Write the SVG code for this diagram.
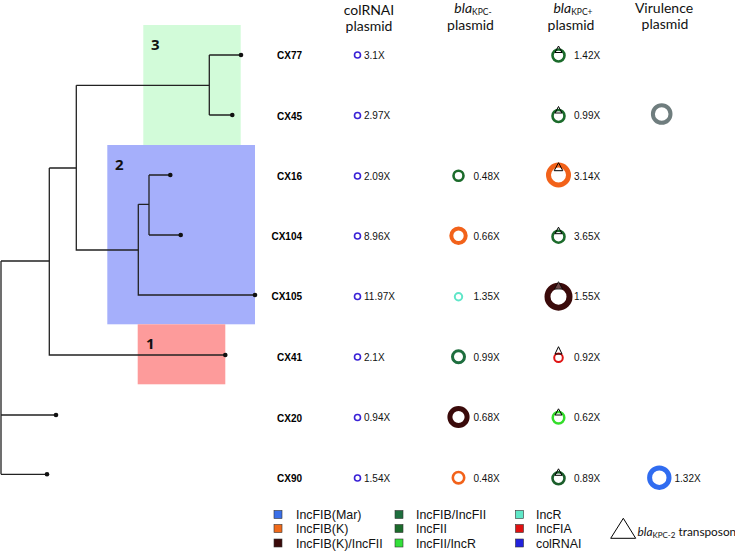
<svg xmlns="http://www.w3.org/2000/svg" width="735" height="551" viewBox="0 0 735 551">
<style>
.hd{font-family:Lato,"Liberation Sans",sans-serif;font-size:14px;fill:#111;text-anchor:middle}
.lab{font-family:"Liberation Sans",Arial,sans-serif;font-size:10px;font-weight:bold;fill:#000;text-anchor:end}
.num{font-family:"Liberation Sans",Arial,sans-serif;font-size:10px;fill:#111}
.leg{font-family:"Liberation Sans",Arial,sans-serif;font-size:12.4px;fill:#111}
.cl{font-family:"Open Sans","Liberation Sans",sans-serif;font-size:15px;font-weight:bold;fill:#111}
.br{fill:none;stroke:#222;stroke-width:1.3}
.dot{fill:#111}
.tri{fill:none;stroke:#000;stroke-width:1}
.ring{fill:none}
.sq{stroke:#333;stroke-width:0.6}
</style>

<g id="clades">
<rect x="143.3" y="25" width="97.4" height="120" fill="#d2fbd9"/>
<rect x="107.3" y="145" width="147.7" height="179.3" fill="#a5affb"/>
<rect x="137.7" y="324.3" width="87.6" height="60" fill="#fd9b9b"/>
<text class="cl" x="151" y="50">3</text>
<text class="cl" x="115" y="170">2</text>
<text class="cl" x="146" y="349">1</text>
</g>

<g id="tree">
<path class="br" d="M1,261 V474.3 M1,261 H49.3 M1,415 H56 M1,474.3 H47"/>
<path class="br" d="M49.3,168 V355 H225.3 M49.3,168 H76.3"/>
<path class="br" d="M76.3,85.3 V250 H138.3 M76.3,85.3 H209.3"/>
<path class="br" d="M209.3,55 V115 M209.3,55 H241 M209.3,115 H232.3"/>
<path class="br" d="M138.3,204.3 V295 H255 M138.3,204.3 H149"/>
<path class="br" d="M149,175 V235 M149,175 H170.3 M149,235 H180.7"/>
<circle class="dot" cx="241" cy="55" r="2.3"/>
<circle class="dot" cx="232.3" cy="115" r="2.3"/>
<circle class="dot" cx="170.3" cy="175" r="2.3"/>
<circle class="dot" cx="180.7" cy="235" r="2.3"/>
<circle class="dot" cx="255" cy="295" r="2.3"/>
<circle class="dot" cx="225.3" cy="355" r="2.3"/>
<circle class="dot" cx="56" cy="415" r="2.3"/>
<circle class="dot" cx="47" cy="474.3" r="2.3"/>
</g>

<g id="headers">
<text class="hd" x="369" y="15">colRNAI</text>
<text class="hd" x="369" y="31">plasmid</text>
<text class="hd" x="473" y="12.5"><tspan font-style="italic">bla</tspan><tspan font-size="8.5" dy="2.5">KPC-</tspan></text>
<text class="hd" x="470.5" y="30">plasmid</text>
<text class="hd" x="573" y="12.5"><tspan font-style="italic">bla</tspan><tspan font-size="8.5" dy="2.5">KPC+</tspan></text>
<text class="hd" x="571" y="30">plasmid</text>
<text class="hd" x="664" y="12.5">Virulence</text>
<text class="hd" x="665" y="28.5">plasmid</text>
</g>

<g id="row-CX77">
<text class="lab" x="302" y="59">CX77</text>
<circle class="ring" cx="357.5" cy="55" r="3" stroke="#3a22d6" stroke-width="1.6"/>
<text class="num" x="364" y="58.5">3.1X</text>
<circle class="ring" cx="558.5" cy="55.5" r="6" stroke="#1b6b2b" stroke-width="2.6"/>
<polygon class="tri" points="558.5,46 555,52.5 562,52.5"/>
<text class="num" x="574" y="59">1.42X</text>
</g>

<g id="row-CX45">
<text class="lab" x="302" y="119.5">CX45</text>
<circle class="ring" cx="357.5" cy="115.5" r="3" stroke="#3a22d6" stroke-width="1.6"/>
<text class="num" x="364" y="119">2.97X</text>
<circle class="ring" cx="558.5" cy="116" r="6" stroke="#1b6b2b" stroke-width="2.6"/>
<polygon class="tri" points="558.5,106.5 555,113 562,113"/>
<text class="num" x="574" y="119">0.99X</text>
<circle class="ring" cx="661.7" cy="114" r="8.8" stroke="#6f7d7e" stroke-width="4"/>
</g>

<g id="row-CX16">
<text class="lab" x="302" y="180">CX16</text>
<circle class="ring" cx="357.5" cy="176" r="3" stroke="#3a22d6" stroke-width="1.6"/>
<text class="num" x="364" y="179.5">2.09X</text>
<circle class="ring" cx="458.5" cy="175.7" r="5" stroke="#1b6b2b" stroke-width="2.6"/>
<text class="num" x="473.5" y="179.5">0.48X</text>
<circle class="ring" cx="558.5" cy="175" r="10" stroke="#f2621a" stroke-width="5"/>
<polygon class="tri" points="558.5,162.7 554.2,170.7 562.8,170.7"/>
<text class="num" x="574" y="179.5">3.14X</text>
</g>

<g id="row-CX104">
<text class="lab" x="302" y="239.5">CX104</text>
<circle class="ring" cx="357.5" cy="236" r="3" stroke="#3a22d6" stroke-width="1.6"/>
<text class="num" x="364" y="239.5">8.96X</text>
<circle class="ring" cx="458.5" cy="235.7" r="7.2" stroke="#f2621a" stroke-width="4"/>
<text class="num" x="473.5" y="239.5">0.66X</text>
<circle class="ring" cx="558.5" cy="236.7" r="6" stroke="#1b6b2b" stroke-width="2.6"/>
<polygon class="tri" points="558.5,227.2 555,233.7 562,233.7"/>
<text class="num" x="574" y="239.5">3.65X</text>
</g>

<g id="row-CX105">
<text class="lab" x="302" y="300">CX105</text>
<circle class="ring" cx="357.5" cy="296.5" r="3" stroke="#3a22d6" stroke-width="1.6"/>
<text class="num" x="364" y="300">11.97X</text>
<circle class="ring" cx="458.5" cy="296.7" r="3.7" stroke="#5fe6c8" stroke-width="2"/>
<text class="num" x="473.5" y="300">1.35X</text>
<circle class="ring" cx="558.5" cy="296.7" r="11" stroke="#3a0a0a" stroke-width="6"/>
<polygon points="558.5,281.7 554.5,289 562.5,289" fill="#fff" fill-opacity="0.25" stroke="#000" stroke-width="0.8"/>
<text class="num" x="574" y="300">1.55X</text>
</g>

<g id="row-CX41">
<text class="lab" x="302" y="360.5">CX41</text>
<circle class="ring" cx="357.5" cy="357" r="3" stroke="#3a22d6" stroke-width="1.6"/>
<text class="num" x="364" y="360.5">2.1X</text>
<circle class="ring" cx="458.5" cy="356.7" r="6" stroke="#1e6e3e" stroke-width="3"/>
<text class="num" x="473.5" y="360.5">0.99X</text>
<circle class="ring" cx="558.5" cy="357.7" r="4.3" stroke="#e01414" stroke-width="2"/>
<polygon class="tri" points="558.5,346.7 555,354 562,354"/>
<text class="num" x="574" y="360.5">0.92X</text>
</g>

<g id="row-CX20">
<text class="lab" x="302" y="421.5">CX20</text>
<circle class="ring" cx="357.5" cy="417.5" r="3" stroke="#3a22d6" stroke-width="1.6"/>
<text class="num" x="364" y="421">0.94X</text>
<circle class="ring" cx="458.5" cy="417" r="8.6" stroke="#3a0a0a" stroke-width="5"/>
<text class="num" x="473.5" y="421">0.68X</text>
<circle class="ring" cx="558.5" cy="417.7" r="5.8" stroke="#33dd2a" stroke-width="2.5"/>
<polygon class="tri" points="558.5,408.8 555,415 562,415"/>
<text class="num" x="574" y="421">0.62X</text>
</g>

<g id="row-CX90">
<text class="lab" x="302" y="482">CX90</text>
<circle class="ring" cx="357.5" cy="478" r="3" stroke="#3a22d6" stroke-width="1.6"/>
<text class="num" x="364" y="481.5">1.54X</text>
<circle class="ring" cx="458.5" cy="477.7" r="5.7" stroke="#f2621a" stroke-width="2.6"/>
<text class="num" x="473.5" y="481.5">0.48X</text>
<circle class="ring" cx="558.5" cy="478.3" r="6" stroke="#1b5e2b" stroke-width="2.6"/>
<polygon class="tri" points="558.5,468.8 555,475.3 562,475.3"/>
<text class="num" x="574" y="481.5">0.89X</text>
<circle class="ring" cx="659.3" cy="477.7" r="9.7" stroke="#306cf0" stroke-width="5"/>
<text class="num" x="674.5" y="481.5">1.32X</text>
</g>

<g id="legend">
<rect class="sq" x="274" y="510.5" width="8" height="8" fill="#3a6fe8"/>
<text class="leg" x="296" y="518.5">IncFIB(Mar)</text>
<rect class="sq" x="274" y="524.5" width="8" height="8" fill="#f06a1a"/>
<text class="leg" x="296" y="533">IncFIB(K)</text>
<rect class="sq" x="274" y="539" width="8" height="8" fill="#3a0a0a"/>
<text class="leg" x="296" y="547.5">IncFIB(K)/IncFII</text>
<rect class="sq" x="395" y="510.5" width="8" height="8" fill="#1e6e3e"/>
<text class="leg" x="416" y="518.5">IncFIB/IncFII</text>
<rect class="sq" x="395" y="524.5" width="8" height="8" fill="#1b6b2b"/>
<text class="leg" x="416" y="533">IncFII</text>
<rect class="sq" x="395" y="539" width="8" height="8" fill="#33e03a"/>
<text class="leg" x="416" y="547.5">IncFII/IncR</text>
<rect class="sq" x="515.5" y="510.5" width="8" height="8" fill="#5fe8c8"/>
<text class="leg" x="536" y="518.5">IncR</text>
<rect class="sq" x="515.5" y="524.5" width="8" height="8" fill="#e01010"/>
<text class="leg" x="536" y="533">IncFIA</text>
<rect class="sq" x="515.5" y="539" width="8" height="8" fill="#2222dd"/>
<text class="leg" x="536" y="547.5">colRNAI</text>
<polygon points="623.3,518.3 610.7,538.3 635.7,538.3" fill="none" stroke="#000" stroke-width="1"/>
<text x="637.5" y="535.5" font-family="Lato,'Liberation Sans',sans-serif" font-size="11.8" fill="#111"><tspan font-style="italic">bla</tspan><tspan font-size="8" dy="2.5">KPC-2</tspan><tspan dy="-2.5"> transposon</tspan></text>
</g>
</svg>
